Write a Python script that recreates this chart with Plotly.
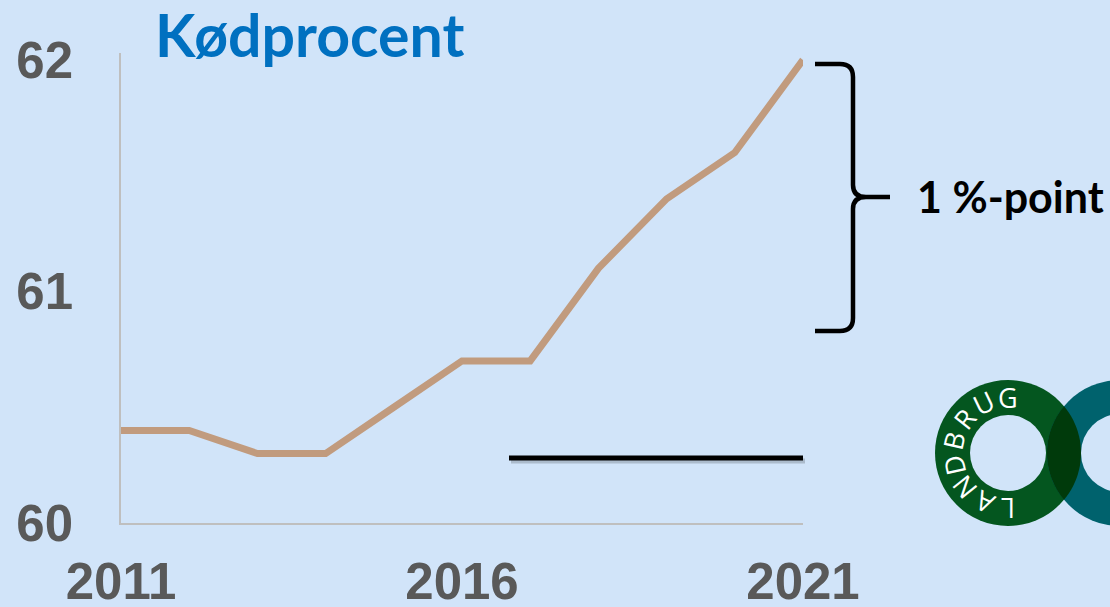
import math
import plotly.graph_objects as go

years = [2011, 2012, 2013, 2014, 2015, 2016, 2017, 2018, 2019, 2020, 2021]
kodprocent = [60.4, 60.4, 60.3, 60.3, 60.5, 60.7, 60.7, 61.1, 61.4, 61.6, 62.0]
x_ticks = [2011, 2016, 2021]
y_ticks = [60, 61, 62]
title_text = "Kødprocent"
brace_text = "1 %-point"
logo_letters = list("LANDBRUG")

W, H = 1110, 607
ML, MR, MT, MB = 121, 307, 53, 84
PW, PH = W - ML - MR, H - MT - MB
BG = "#D1E4F9"


def px(x):
    return (x - ML) / PW


def py(y):
    return (H - MB - y) / PH


fig = go.Figure()
fig.add_trace(go.Scatter(
    x=years, y=kodprocent, mode="lines",
    line=dict(color="#C19B7E", width=7),
    hoverinfo="skip", showlegend=False,
))

shapes = []
# horizontal black bar (shadow + line)
shapes.append(dict(type="line", xref="paper", yref="paper",
                   x0=px(511), x1=px(805), y0=py(461), y1=py(461),
                   line=dict(color="rgba(0,0,0,0.18)", width=5)))
shapes.append(dict(type="line", xref="paper", yref="paper",
                   x0=px(509), x1=px(803), y0=py(458), y1=py(458),
                   line=dict(color="#000000", width=5)))


def P(x, y):
    return f"{px(x):.5f},{py(y):.5f}"


brace = ("M " + P(815, 64) + " L " + P(840, 64) + " Q " + P(853, 64) + " " + P(853, 77)
         + " L " + P(853, 185) + " Q " + P(853, 197) + " " + P(866, 197)
         + " L " + P(890, 197)
         + " M " + P(866, 197) + " Q " + P(853, 197) + " " + P(853, 209)
         + " L " + P(853, 318) + " Q " + P(853, 331) + " " + P(840, 331)
         + " L " + P(815, 331))
shapes.append(dict(type="path", xref="paper", yref="paper", path=brace,
                   line=dict(color="#000000", width=4.5)))

# logo
gc, tc, R, r = (1008, 453), (1120, 453), 73, 38
GREEN, TEAL, DARK = "#04561F", "#00626D", "#003A0B"


def circle(c, rad, color):
    return dict(type="circle", xref="paper", yref="paper",
                x0=px(c[0] - rad), x1=px(c[0] + rad),
                y0=py(c[1] + rad), y1=py(c[1] - rad),
                fillcolor=color, line=dict(width=0), layer="above")


shapes.append(circle(gc, R, GREEN))
shapes.append(circle(tc, R, TEAL))
d = (tc[0] - gc[0]) / 2
t0 = math.degrees(math.acos(d / R))
pts = []
n = 24
for i in range(n + 1):
    t = math.radians(-t0 + 2 * t0 * i / n)
    pts.append((gc[0] + R * math.cos(t), gc[1] + R * math.sin(t)))
for i in range(n + 1):
    t = math.radians(t0 - 2 * t0 * i / n)
    pts.append((tc[0] - R * math.cos(t), tc[1] + R * math.sin(t)))
lens = "M " + " L ".join(P(a, b) for a, b in pts) + " Z"
shapes.append(dict(type="path", xref="paper", yref="paper", path=lens,
                   fillcolor=DARK, line=dict(width=0)))
shapes.append(circle(gc, r, BG))
shapes.append(circle(tc, r + 1, BG))

annotations = [
    dict(text=title_text, xref="paper", yref="paper", x=px(153), y=py(34),
         xanchor="left", yanchor="middle", showarrow=False,
         font=dict(family="Lato", size=59, color="#0070C0", weight="bold")),
    dict(text=brace_text, xref="paper", yref="paper", x=px(915), y=py(196),
         xanchor="left", yanchor="middle", showarrow=False,
         font=dict(family="Lato", size=43, color="#000000", weight="bold")),
]
rm = (R + r) / 2
for i, ch in enumerate(logo_letters):
    phi = 180 - i * 180 / (len(logo_letters) - 1)
    ph = math.radians(phi)
    lx = gc[0] - rm * math.sin(ph)
    ly = gc[1] - rm * math.cos(ph)
    annotations.append(dict(text=ch, xref="paper", yref="paper", x=px(lx), y=py(ly),
                            xanchor="center", yanchor="middle", showarrow=False,
                            textangle=-phi,
                            font=dict(family="Open Sans", size=27, color="#FFFFFF")))

tick_font = dict(family="Liberation Sans", size=51, color="#595959", weight="bold")
fig.update_layout(
    width=W, height=H,
    margin=dict(l=ML, r=MR, t=MT, b=MB, autoexpand=False),
    paper_bgcolor=BG, plot_bgcolor=BG,
    showlegend=False,
    shapes=shapes, annotations=annotations,
    xaxis=dict(range=[2011, 2021], tickvals=x_ticks, ticktext=[str(v) for v in x_ticks],
               showgrid=False, zeroline=False, showline=True, linecolor="#BFBFBF",
               linewidth=1.5, ticks="", tickfont=tick_font, ticklabelstandoff=13,
               automargin=False),
    yaxis=dict(range=[60, 62.03], tickvals=y_ticks, ticktext=[str(v) for v in y_ticks],
               showgrid=False, zeroline=False, showline=True, linecolor="#BFBFBF",
               linewidth=1.5, ticks="", tickfont=tick_font, ticklabelstandoff=36,
               automargin=False),
)

fig.write_html(
    "out.html",
    config={"displayModeBar": False},
    post_script="document.body.style.margin='0';document.body.style.overflow='hidden';",
)
